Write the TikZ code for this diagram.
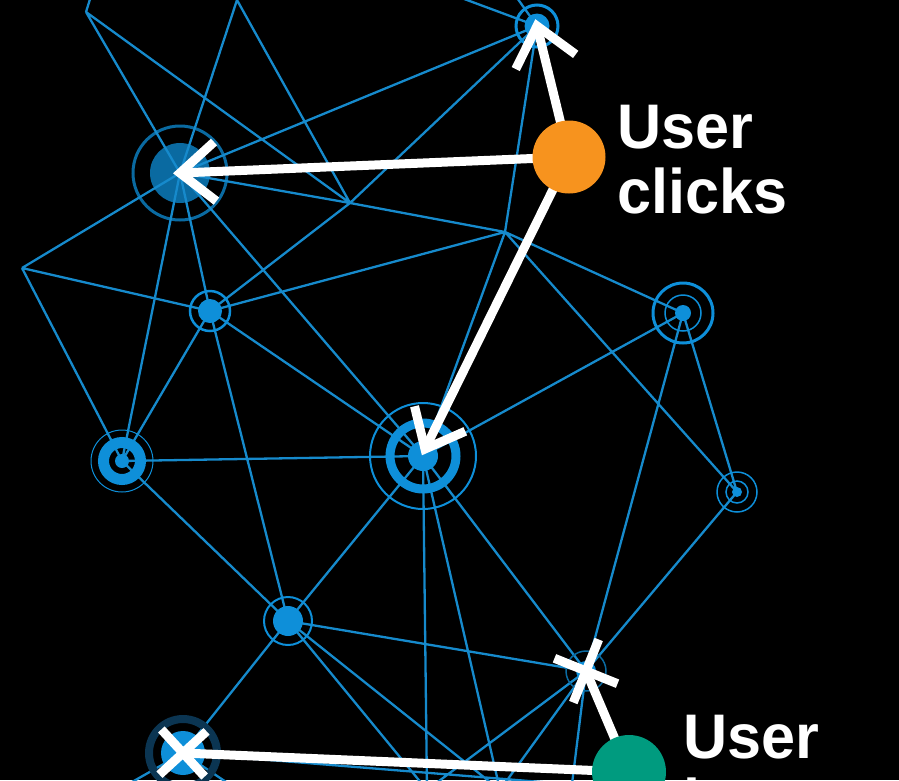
\documentclass[tikz,border=0pt]{standalone}
\usepackage{fontspec}
\setmainfont{Liberation Sans}
\usetikzlibrary{calc}
\definecolor{lineblue}{HTML}{168ACC}
\definecolor{dotblue}{HTML}{0E8FD9}
\definecolor{darkA}{HTML}{0A6AA1}
\definecolor{navy}{HTML}{0B3552}
\definecolor{orng}{HTML}{F7931E}
\definecolor{grn}{HTML}{009B7F}
\begin{document}
\begin{tikzpicture}[x=1pt,y=-1pt,
  edge/.style={draw=lineblue, line width=2.3pt},
  wline/.style={draw=white, line width=9pt, line join=miter},
  lbl/.style={anchor=base west, inner sep=0pt, text=white, font=\bfseries\fontsize{63pt}{65pt}\selectfont}]
\useasboundingbox (0,0) rectangle (899,780);
\fill[black] (0,0) rectangle (899,780);
\clip (0,0) rectangle (899,780);
% vertices
\coordinate (A) at (180,173);
\coordinate (B) at (537,26);
\coordinate (O) at (569,157);
\coordinate (V1) at (86,12);
\coordinate (V1u) at (96,-20);
\coordinate (V2) at (237,0);
\coordinate (V2a) at (230,-20);
\coordinate (V2b) at (246,-20);
\coordinate (V3) at (350,203);
\coordinate (V4) at (22,268);
\coordinate (V5) at (505,232);
\coordinate (Bt1) at (440,-10);
\coordinate (Bt2) at (510,-12);
\coordinate (C) at (210,311);
\coordinate (D) at (683,313);
\coordinate (E) at (122,461);
\coordinate (F) at (423,456);
\coordinate (Ft) at (425,449);
\coordinate (G) at (737,492);
\coordinate (H) at (288,621);
\coordinate (I) at (586,671);
\coordinate (J) at (183,753);
\coordinate (Gr) at (629,772);
\coordinate (P1) at (427,790);
\coordinate (P2) at (500,790);
\coordinate (P3) at (571,792);
\coordinate (Q1) at (118,790);
\coordinate (Q2) at (238,790);
\coordinate (Q3) at (640,790);
% A base (lines run over it)
\fill[darkA] (A) circle (30pt);
\draw[darkA, line width=3pt] (A) circle (47pt);
% blue connectors
\draw[edge] (A)--(V1) (A)--(V2) (A)--(B) (A)--(V3) (V3)--(V5) (A)--(V4)
  (A)--(C) (A)--(E) (A)--(F)
  (V1)--(V3) (V1)--(V1u) (V2)--(V3) (V2)--(V2a) (V2)--(V2b)
  (B)--(V3) (B)--(V5) (B)--(Bt1) (B)--(Bt2)
  (V4)--(C) (V4)--(E)
  (C)--(V3) (C)--(V5) (C)--(E) (C)--(H) (C)--(F)
  (V5)--(D) (V5)--(G) (V5)--(F)
  (D)--(G) (D)--(F) (D)--(I)
  (G)--(I)
  (F)--(E) (F)--(H) (F)--(I) (F)--(P1) (F)--(P2)
  (H)--(E) (H)--(J) (H)--(I) (H)--(P1) (H)--(P2)
  (I)--(P1) (I)--(P2) (I)--(P3)
  (J)--(Q1) (J)--(Q2) (J)--(Q3);
% node markers
\fill[dotblue] (B) circle (12.5pt);
\draw[dotblue, line width=3pt] (B) circle (21pt);
\fill[dotblue] (C) circle (12pt);
\draw[dotblue, line width=2.5pt] (C) circle (20pt);
\fill[dotblue] (D) circle (8pt);
\draw[dotblue, line width=1.5pt] (D) circle (18pt);
\draw[dotblue, line width=3pt] (D) circle (30pt);
\fill[dotblue] (E) circle (7pt);
\draw[dotblue, line width=11pt] (E) circle (18.5pt);
\draw[dotblue, line width=1pt] (E) circle (31pt);
\fill[dotblue] (F) circle (15pt);
\draw[dotblue, line width=9pt] (F) circle (33pt);
\draw[dotblue, line width=2pt] (F) circle (53pt);
\fill[dotblue] (G) circle (5pt);
\draw[dotblue, line width=1.5pt] (G) circle (11pt);
\draw[dotblue, line width=1.5pt] (G) circle (20pt);
\fill[dotblue] (H) circle (15pt);
\draw[dotblue, line width=2pt] (H) circle (24pt);
\fill[dotblue] (I) circle (10pt);
\draw[darkA, line width=1.5pt] (I) circle (20pt);
\draw[navy, line width=8pt] (J) circle (34pt);
\fill[dotblue] (J) circle (22pt);
% white connectors from the orange node
\draw[wline] (O) -- (A);
\draw[wline] ($(A)!46pt!40:(O)$) -- (A) -- ($(A)!46pt!-40:(O)$);
\draw[wline] (O) -- (B);
\draw[wline] ($(B)!48pt!40:(O)$) -- (B) -- ($(B)!48pt!-40:(O)$);
\draw[wline] (O) -- (Ft);
\draw[wline] ($(Ft)!44pt!40:(O)$) -- (Ft) -- ($(Ft)!44pt!-40:(O)$);
% white connectors from the green node
\draw[wline] (Gr) -- (I);
\draw[wline] ($(I)!34pt!45:(Gr)$) -- ($(I)!34pt!225:(Gr)$);
\draw[wline] ($(I)!34pt!-45:(Gr)$) -- ($(I)!34pt!135:(Gr)$);
\draw[wline] (Gr) -- (J);
\draw[wline] ($(J)!32pt!45:(Gr)$) -- ($(J)!32pt!225:(Gr)$);
\draw[wline] ($(J)!32pt!-45:(Gr)$) -- ($(J)!32pt!135:(Gr)$);
% user nodes
\fill[orng] (O) circle (36.5pt);
\fill[grn] (Gr) circle (37pt);
% labels
\node[lbl] (t1) at (617,148) {\scalebox{0.97}[1]{User}};
\node[lbl] (t2) at (617,213) {\scalebox{0.97}[1]{clicks}};
\node[lbl] (t3) at (683,758) {\scalebox{0.97}[1]{User}};
\node[lbl] (t4) at (683,823) {\scalebox{0.97}[1]{leaves}};
\end{tikzpicture}
\end{document}
